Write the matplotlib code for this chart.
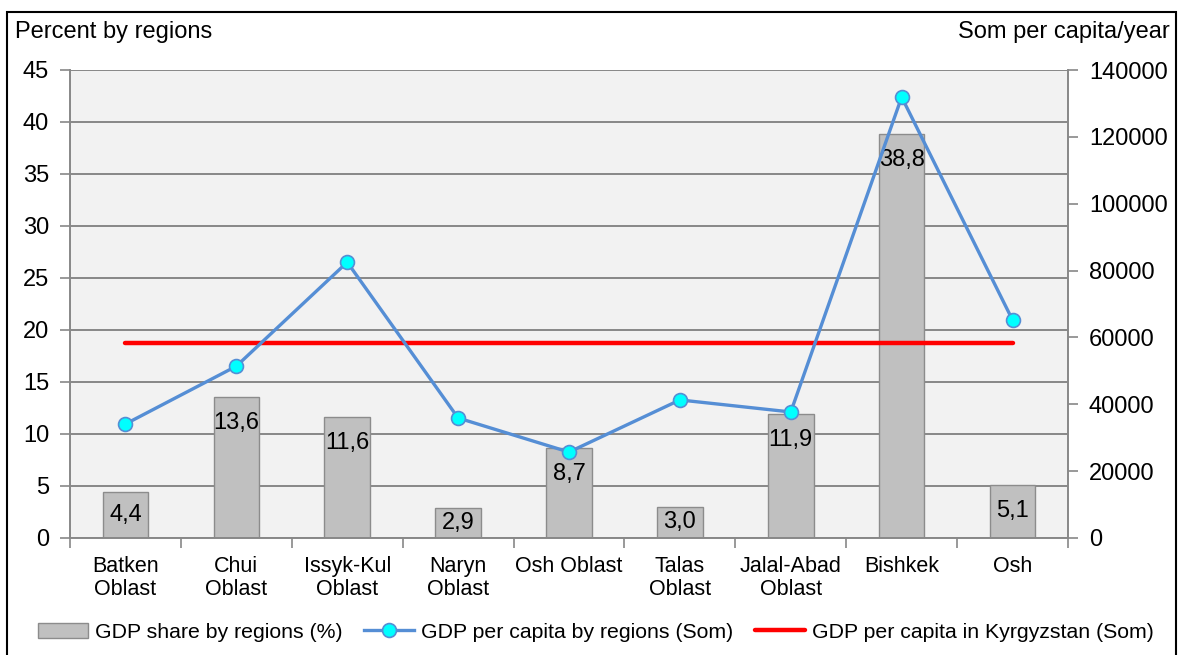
import matplotlib
matplotlib.use("Agg")
import matplotlib.pyplot as plt
from matplotlib.patches import Rectangle
import numpy as np

plt.rcParams['font.family'] = ['Liberation Sans', 'DejaVu Sans']

regions = ["Batken\nOblast", "Chui\nOblast", "Issyk-Kul\nOblast", "Naryn\nOblast",
           "Osh Oblast", "Talas\nOblast", "Jalal-Abad\nOblast", "Bishkek", "Osh"]
gdp_share = [4.4, 13.6, 11.6, 2.9, 8.7, 3.0, 11.9, 38.8, 5.1]
gdp_per_capita = [34100, 51400, 82500, 35900, 25700, 41300, 37700, 131900, 65200]
gdp_per_capita_kg = 58300

left_ticks = [0, 5, 10, 15, 20, 25, 30, 35, 40, 45]
right_ticks = [0, 20000, 40000, 60000, 80000, 100000, 120000, 140000]

W, H = 1179, 655
fig = plt.figure(figsize=(W / 100, H / 100), dpi=100)
fig.patch.set_facecolor("white")

ax = fig.add_axes([70 / W, 1 - 538 / H, (1068 - 70) / W, (538 - 70) / H])
ax2 = ax.twinx()

grid_c = "#888888"
fs = 17
fs_cat = 15.5
fs_leg = 15.3
x = np.arange(len(regions))

ax.set_facecolor("#f2f2f2")
ax.set_axisbelow(True)
ax.bar(x, gdp_share, width=0.41, color="#c0c0c0", edgecolor="#8c8c8c",
       linewidth=1.0, zorder=2, label="GDP share by regions (%)")
for xi, v in zip(x, gdp_share):
    off = min(2.5, v / 2)
    ax.text(xi, v - off, f"{v:.1f}".replace(".", ","), ha="center", va="center",
            fontsize=fs, color="black", zorder=3)

ax.set_ylim(0, 45)
ax.set_yticks(left_ticks)
ax.yaxis.grid(True, color=grid_c, linewidth=1.4)
ax.set_xlim(-0.5, len(regions) - 0.5)
ax.set_xticks(np.arange(-0.5, len(regions), 1.0))
ax.set_xticklabels([])
ax.set_xticks(x, minor=True)
ax.set_xticklabels(regions, minor=True, fontsize=fs_cat, linespacing=1.15)
ax.tick_params(axis="x", which="major", length=7, width=1.2, color=grid_c, direction="out")
ax.tick_params(axis="x", which="minor", length=0, pad=13)
ax.tick_params(axis="y", length=7, width=1.2, color=grid_c, labelsize=fs, pad=8)

ax.spines["top"].set_visible(False)
ax2.spines["top"].set_visible(False)
for sp in ("left", "bottom"):
    ax.spines[sp].set_color(grid_c)
    ax.spines[sp].set_linewidth(1.4)
ax.spines["right"].set_visible(False)
ax2.spines["left"].set_visible(False)
ax2.spines["bottom"].set_visible(False)
ax2.spines["right"].set_color(grid_c)
ax2.spines["right"].set_linewidth(1.4)

ax2.plot([x[0], x[-1]], [gdp_per_capita_kg, gdp_per_capita_kg], color="#ff0000",
         linewidth=3.2, solid_capstyle="round", zorder=3,
         label="GDP per capita in Kyrgyzstan (Som)")
ax2.plot(x, gdp_per_capita, color="#558ed5", linewidth=2.4, marker="o",
         markersize=10, markerfacecolor="#00ffff", markeredgecolor="#558ed5",
         markeredgewidth=1.2, zorder=4, label="GDP per capita by regions (Som)")
ax2.set_ylim(0, 140000)
ax2.set_yticks(right_ticks)
ax2.tick_params(axis="y", length=7, width=1.2, color=grid_c, labelsize=fs, pad=8)

fig.text(15 / W, 1 - 32 / H, "Percent by regions", ha="left", va="center", fontsize=fs)
fig.text(1170 / W, 1 - 32 / H, "Som per capita/year", ha="right", va="center", fontsize=fs)

h1, l1 = ax.get_legend_handles_labels()
h2, l2 = ax2.get_legend_handles_labels()
handles = [h1[0], h2[1], h2[0]]
labels = [l1[0], l2[1], l2[0]]
fig.legend(handles, labels, loc="center", bbox_to_anchor=(596 / W, 1 - 632 / H),
           ncol=3, frameon=False, fontsize=fs_leg, handlelength=2.35, handletextpad=0.33,
           columnspacing=1.0, handleheight=0.7, borderaxespad=0, borderpad=0)

fig.add_artist(Rectangle((7 / W, -0.01), (1176 - 7) / W, 1.01 - 12 / H,
                         transform=fig.transFigure, fill=False, edgecolor="black",
                         linewidth=1.5, clip_on=False))

fig.savefig("out.png", dpi=100, facecolor="white")
